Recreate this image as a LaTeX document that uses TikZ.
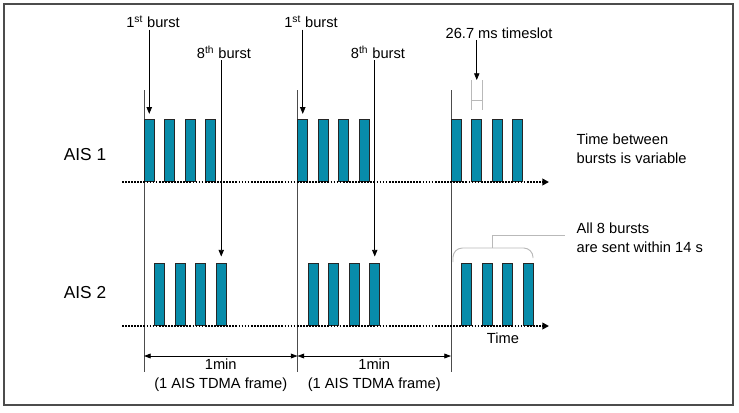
\documentclass[tikz,border=0pt]{standalone}
\usepackage{fontspec}
\setmainfont{Liberation Sans}
\usetikzlibrary{positioning,arrows.meta,calc}
\definecolor{burstteal}{RGB}{8,140,170}
\tikzset{
  figarrow/.style={-{Triangle[length=5pt,width=4pt]}, line width=0.6pt},
  figdim/.style={{Triangle[length=5pt,width=3.6pt]}-{Triangle[length=5pt,width=3.6pt]}, line width=0.6pt},
  figlabel/.style={font=\fontsize{11}{14}\selectfont, align=left, inner sep=1pt},
}
\begin{document}
\begin{tikzpicture}[x=0.75pt, y=-0.75pt,
    burst/.style={draw=black!85, line width=0.6pt, fill=burstteal, minimum width=7.4pt,
      minimum height=47pt, inner sep=0pt, anchor=south},
    axis/.style={line width=1.3pt, dash pattern=on 1.3pt off 1pt, -{Triangle[length=5pt,width=5pt]}},
    guide/.style={gray!60!black, line width=0.6pt},
    light/.style={gray!55, line width=0.7pt},
    ais/.style={font=\fontsize{13}{15}\selectfont}]
  \useasboundingbox (0,0) rectangle (739,412);
  \draw[gray!60!black, line width=1.3pt] (4,4) rectangle (733,405);
  % frame boundaries
  \foreach \g/\x in {1/144,2/297.5,3/451} {
    \coordinate (g\g t) at (\x,90);
    \coordinate (g\g b) at (\x,372);
    \coordinate (d\g) at (\x,356);
    \draw[guide] (g\g t) -- (g\g b);
  }
  % bursts
  \foreach \g in {1,2,3} {
    \foreach \b in {1,...,4} {
      \node[burst] (u\g\b) at ({149.25+153.5*(\g-1)+20.5*(\b-1)},182) {};
      \node[burst] (l\g\b) at ({159.75+153.5*(\g-1)+20.5*(\b-1)},326) {};
    }
  }
  % time axes
  \coordinate (a1s) at (122,182);
  \coordinate (a1e) at (549,182);
  \coordinate (a2s) at (122,326);
  \coordinate (a2e) at (549,326);
  \draw[axis] (a1s) -- (a1e);
  \draw[axis] (a2s) -- (a2e);
  \node[ais] (ais1) at (85,155) {AIS 1};
  \node[ais] (ais2) at (85,293) {AIS 2};
  \node[figlabel] (time) at (503,338) {Time};
  % 1st / 8th burst
  \node[figlabel] (first1) at (153,22) {1\textsuperscript{st} burst};
  \node[figlabel] (first2) at (311,22) {1\textsuperscript{st} burst};
  \node[figlabel] (eighth1) at (224,52) {8\textsuperscript{th} burst};
  \node[figlabel] (eighth2) at (378,52) {8\textsuperscript{th} burst};
  \draw[figarrow, shorten >=3.5pt] (first1.south -| u11.north) -- (u11.north);
  \draw[figarrow, shorten >=3.5pt] (first2.south -| u21.north) -- (u21.north);
  \draw[figarrow, shorten >=4.5pt] (eighth1.south -| l14.north) -- (l14.north);
  \draw[figarrow, shorten >=4.5pt] (eighth2.south -| l24.north) -- (l24.north);
  % timeslot
  \node[figlabel] (slot) at (499,33) {26.7 ms timeslot};
  \coordinate (hla) at (471.5,80);
  \coordinate (hlb) at (471.5,110);
  \coordinate (hra) at (482,80);
  \coordinate (hrb) at (482,110);
  \coordinate (hlm) at (471.5,100);
  \coordinate (hrm) at (482,100);
  \coordinate (slottip) at (476.75,80);
  \draw[light] (hla) -- (hlb);
  \draw[light] (hra) -- (hrb);
  \draw[light] (hlm) -- (hrm);
  \draw[figarrow] (slot.south -| slottip) -- (slottip);
  % notes
  \node[figlabel, anchor=west] (vary) at (575,149) {Time between\\bursts is variable};
  \node[figlabel, anchor=west] (all8) at (575,238) {All 8 bursts\\are sent within 14 s};
  \coordinate (brl) at (453,262);
  \coordinate (brr) at (533,258);
  \coordinate (brm) at (492,248);
  \coordinate (brt) at (492,235);
  \coordinate (bre) at (565,235);
  \draw[light, rounded corners=7pt] (brl) -- (453,248) -- (533,248) -- (brr);
  \draw[light] (brm) -- (brt) -- (bre);
  % frame lengths
  \draw[figdim] (d1) -- node[figlabel, align=center, below=1pt] (min1) {1min\\(1 AIS TDMA frame)} (d2);
  \draw[figdim] (d2) -- node[figlabel, align=center, below=1pt] (min2) {1min\\(1 AIS TDMA frame)} (d3);
\end{tikzpicture}
\end{document}
